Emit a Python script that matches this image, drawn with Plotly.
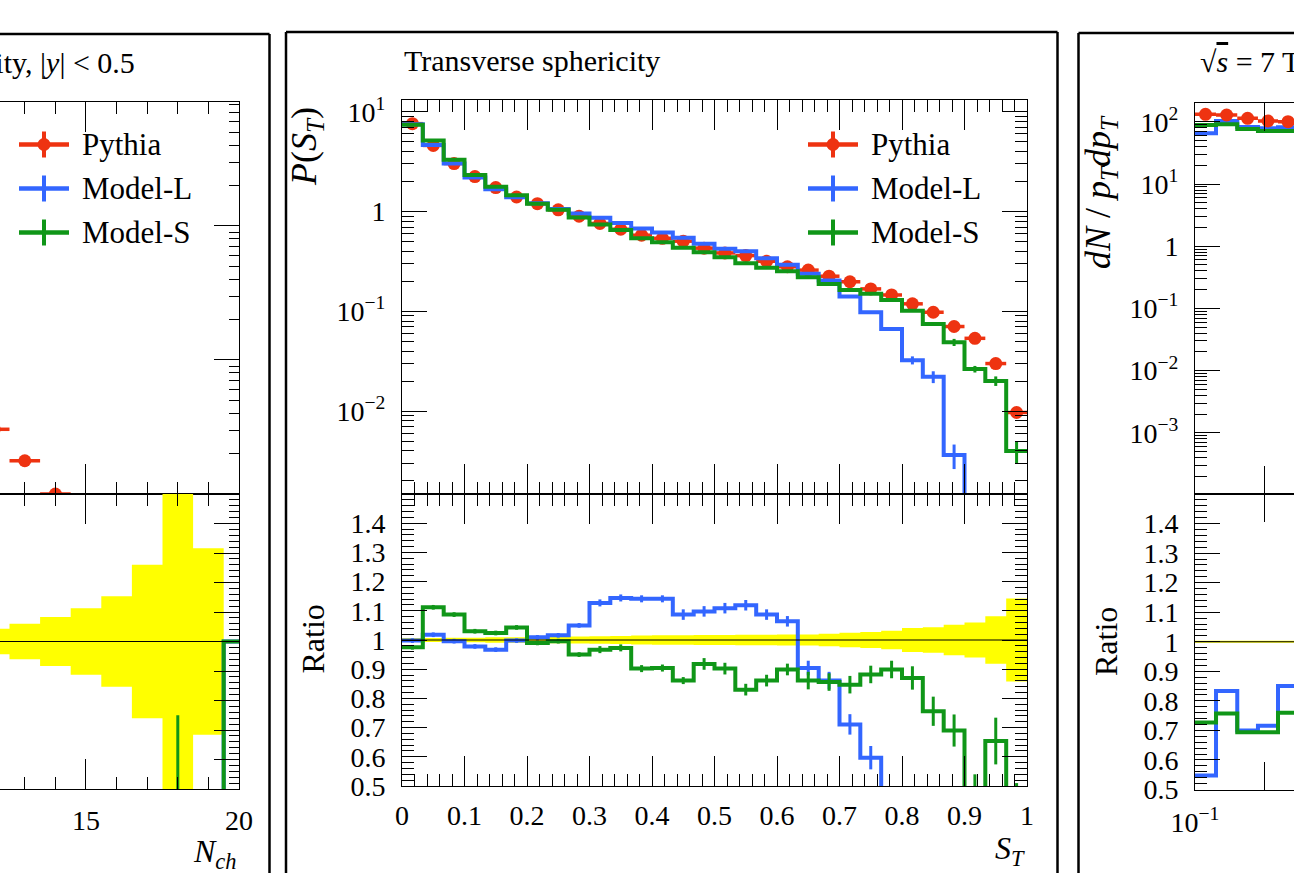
import plotly.graph_objects as go

W, H = 1294, 873
FONT = "Liberation Serif"
RED, BLUE, GREEN, YELLOW = "#ee3311", "#3366ff", "#109618", "#ffff00"

# ---------------- Centre panel: transverse sphericity (30 bins on [0,1]) -------------
st_edges = [0.0, 0.0333, 0.0667, 0.1, 0.1333, 0.1667, 0.2, 0.2333, 0.2667, 0.3,
            0.3333, 0.3667, 0.4, 0.4333, 0.4667, 0.5, 0.5333, 0.5667, 0.6, 0.6333,
            0.6667, 0.7, 0.7333, 0.7667, 0.8, 0.8333, 0.8667, 0.9, 0.9333, 0.9667, 1.0]
pythia_st = [7.6, 4.6, 3.03, 2.24, 1.74, 1.40, 1.20, 1.04, 0.90, 0.76, 0.665, 0.58, 0.54,
             0.505, 0.43, 0.385, 0.362, 0.318, 0.28, 0.259, 0.225, 0.198, 0.168, 0.146,
             0.119, 0.098, 0.0705, 0.0537, 0.030, 0.0097]
modelL_st = [7.49, 4.65, 3.03, 2.20, 1.67, 1.39, 1.21, 1.06, 0.955, 0.865, 0.77, 0.675,
             0.616, 0.547, 0.475, 0.424, 0.40, 0.341, 0.294, 0.238, 0.204, 0.141, 0.098,
             0.0665, 0.0324, 0.0221, 0.00363, 0.0, 0.0, 0.0]
modelL_st_err = [0.0] * 23 + [0.002, 0.003, 0.003, 0.001, 0.0, 0.0, 0.0]
modelS_st = [7.4, 5.15, 3.30, 2.32, 1.77, 1.46, 1.20, 1.04, 0.87, 0.74, 0.655, 0.54,
             0.493, 0.434, 0.392, 0.349, 0.304, 0.273, 0.252, 0.22, 0.188, 0.164, 0.15,
             0.13, 0.1016, 0.0747, 0.049, 0.0264, 0.0201, 0.0040]
modelS_st_err = [0.0] * 25 + [0.003, 0.004, 0.002, 0.0022, 0.001]
ratioL_st = [0.998, 1.018, 0.996, 0.978, 0.967, 0.998, 1.009, 1.016, 1.05, 1.127, 1.144,
             1.141, 1.141, 1.087, 1.098, 1.109, 1.119, 1.087, 1.064, 0.904, 0.861, 0.711,
             0.597, 0.45, 0.27, 0.22, 0.05, 0.0, 0.0, 0.0]
ratioL_st_err = [0.008] * 9 + [0.012] * 4 + [0.018] * 6 + [0.025, 0.03, 0.035, 0.04] + [0.05] * 7
ratioS_st = [0.975, 1.112, 1.087, 1.03, 1.024, 1.043, 0.99, 0.996, 0.95, 0.967, 0.973,
             0.902, 0.904, 0.861, 0.918, 0.902, 0.83, 0.861, 0.899, 0.861, 0.856, 0.847,
             0.882, 0.899, 0.87, 0.756, 0.69, 0.49, 0.654, 0.41]
ratioS_st_err = [0.008] * 9 + [0.012] * 5 + [0.02] * 5 + [0.03] * 5 + [0.04, 0.05, 0.055, 0.05, 0.08, 0.1]
band_st = [0.007, 0.007, 0.008, 0.008, 0.009, 0.009, 0.010, 0.011, 0.012, 0.013, 0.014,
           0.015, 0.016, 0.016, 0.017, 0.017, 0.018, 0.018, 0.019, 0.019, 0.021, 0.025,
           0.027, 0.032, 0.041, 0.044, 0.052, 0.060, 0.081, 0.142]

# ---------------- Left panel: charged multiplicity (visible bins only) -------------
nch_edges = [11.5, 12.5, 13.5, 14.5, 15.5, 16.5, 17.5, 18.5, 19.5, 20.5]
pythia_nch = [3.04e-3, 1.77e-3, 1.0e-3, 5.5e-4, 3.0e-4, 1.6e-4, 8e-5, 4e-5, 0.0]
band_nch = [0.043, 0.06, 0.083, 0.113, 0.153, 0.26, 0.6, 0.316, 0.0]
ratioL_nch = [0.0, 0.0, 0.0, 0.0, 0.0, 0.0, 0.0, 0.0, 1.0]
ratioS_nch = [0.0, 0.0, 0.0, 0.0, 0.0, 0.0, 0.0, 0.0, 1.0]
ratioS_nch_err = [0.0, 0.0, 0.0, 0.0, 0.0, 0.0, 0.75, 0.0, 0.0]

# ---------------- Right panel: pT spectrum (visible bins only) -------------
pt_edges = [0.100, 0.1232, 0.1521, 0.1868, 0.2279, 0.278]
pythia_pt = [132.0, 128.5, 113.8, 103.0, 100.4]
modelL_pt = [65.3, 103.0, 82.5, 78.6, 81.5]
modelS_pt = [88.9, 91.2, 76.6, 71.1, 71.1]
ratioL_pt = [0.547, 0.833, 0.70, 0.716, 0.85]
ratioS_pt = [0.727, 0.757, 0.694, 0.694, 0.76]
band_pt = [0.003, 0.003, 0.003, 0.003, 0.003]

LOGFLOOR = 1e-9


def px(x):
    return x / W


def py(y):
    return 1 - y / H


def centres(edges, log=False):
    if log:
        return [(a * b) ** 0.5 for a, b in zip(edges[:-1], edges[1:])]
    return [(a + b) / 2 for a, b in zip(edges[:-1], edges[1:])]


def steps(vals, floor=None):
    v = [(floor if (floor is not None and x <= 0) else x) for x in vals]
    return v + [v[-1]]


fig = go.Figure()


def add_step(edges, vals, color, xa, ya, floor=None, width=4):
    fig.add_trace(go.Scatter(x=edges, y=steps(vals, floor), mode="lines", line_shape="hv",
                             line=dict(color=color, width=width), xaxis=xa, yaxis=ya,
                             showlegend=False, hoverinfo="skip"))


def add_err(edges, vals, errs, color, xa, ya, log=False):
    fig.add_trace(go.Scatter(x=centres(edges, log), y=vals, mode="markers",
                             marker=dict(size=1, color=color),
                             error_y=dict(type="data", array=errs, color=color,
                                          thickness=3, width=0),
                             xaxis=xa, yaxis=ya, showlegend=False, hoverinfo="skip"))


def add_points(edges, vals, xa, ya, log=False):
    c = centres(edges, log)
    plus = [b - m for b, m in zip(edges[1:], c)]
    minus = [m - a for a, m in zip(edges[:-1], c)]
    yv = [v if v > 0 else None for v in vals]
    fig.add_trace(go.Scatter(x=c, y=yv, mode="markers",
                             marker=dict(size=13, color=RED, symbol="circle"),
                             error_x=dict(type="data", array=plus, arrayminus=minus,
                                          color=RED, thickness=3.5, width=0),
                             xaxis=xa, yaxis=ya, showlegend=False, hoverinfo="skip"))


def add_band(edges, hw, xa, ya):
    lo = [1 - h for h in hw]
    hi = [1 + h for h in hw]
    fig.add_trace(go.Scatter(x=edges, y=lo + [lo[-1]], mode="lines", line_shape="hv",
                             line=dict(width=0, color=YELLOW), xaxis=xa, yaxis=ya,
                             showlegend=False, hoverinfo="skip"))
    fig.add_trace(go.Scatter(x=edges, y=hi + [hi[-1]], mode="lines", line_shape="hv",
                             line=dict(width=0, color=YELLOW), fill="tonexty",
                             fillcolor=YELLOW, xaxis=xa, yaxis=ya,
                             showlegend=False, hoverinfo="skip"))


# centre panel traces (x/y upper, x2/y2 ratio)
add_points(st_edges, pythia_st, "x", "y")
add_step(st_edges, modelL_st, BLUE, "x", "y", floor=LOGFLOOR)
add_err(st_edges, modelL_st, modelL_st_err, BLUE, "x", "y")
add_step(st_edges, modelS_st, GREEN, "x", "y", floor=LOGFLOOR)
add_err(st_edges, modelS_st, modelS_st_err, GREEN, "x", "y")
add_band(st_edges, band_st, "x2", "y2")
add_step(st_edges, ratioL_st, BLUE, "x2", "y2")
add_err(st_edges, ratioL_st, ratioL_st_err, BLUE, "x2", "y2")
add_step(st_edges, ratioS_st, GREEN, "x2", "y2")
add_err(st_edges, ratioS_st, ratioS_st_err, GREEN, "x2", "y2")

# left panel traces (x3/y3 upper, x4/y4 ratio)
add_points(nch_edges, pythia_nch, "x3", "y3")
add_band(nch_edges, band_nch, "x4", "y4")
add_step(nch_edges, ratioL_nch, BLUE, "x4", "y4")
add_step(nch_edges, ratioS_nch, GREEN, "x4", "y4")
add_err(nch_edges, ratioS_nch, ratioS_nch_err, GREEN, "x4", "y4")

# right panel traces (x5/y5 upper, x6/y6 ratio)
add_step(pt_edges, modelL_pt, BLUE, "x5", "y5")
add_step(pt_edges, modelS_pt, GREEN, "x5", "y5")
add_points(pt_edges, pythia_pt, "x5", "y5", log=True)
add_band(pt_edges, band_pt, "x6", "y6")
add_step(pt_edges, ratioL_pt, BLUE, "x6", "y6")
add_step(pt_edges, ratioS_pt, GREEN, "x6", "y6")

# ---------------- axes ----------------
TF = dict(family=FONT, size=28, color="black")
log_minor = [k * 10.0 ** e for e in range(-5, 3) for k in range(2, 10)]
log_major = [1e-3, 1e-2, 1e-1, 1, 10, 100]
log_text = ["10<sup>\u22123</sup>", "10<sup>\u22122</sup>", "10<sup>\u22121</sup>", "1",
            "10<sup>1</sup>", "10<sup>2</sup>"]
ratio_major = [0.5, 0.6, 0.7, 0.8, 0.9, 1.0, 1.1, 1.2, 1.3, 1.4]
ratio_text = ["0.5", "0.6", "0.7", "0.8", "0.9", "1", "1.1", "1.2", "1.3", "1.4"]
st_major = [0, 0.1, 0.2, 0.3, 0.4, 0.5, 0.6, 0.7, 0.8, 0.9, 1.0]
st_text = ["0", "0.1", "0.2", "0.3", "0.4", "0.5", "0.6", "0.7", "0.8", "0.9", "1"]


def base(**kw):
    d = dict(showline=True, linecolor="black", linewidth=1, ticks="inside",
             tickcolor="black", tickwidth=1, showgrid=False, zeroline=False,
             tickfont=TF, ticklabelstandoff=10, automargin=False)
    d.update(kw)
    return d


def minor_lin(dt, t0, ln=12):
    return dict(ticks="inside", dtick=dt, tick0=t0, ticklen=ln, tickcolor="black",
                tickwidth=1, showgrid=False)


def minor_log(ln=12):
    return dict(ticks="inside", tickmode="array", tickvals=log_minor, ticklen=ln,
                tickcolor="black", tickwidth=1, showgrid=False)


CX = [px(402), px(1027)]
LX = [0, px(239)]
RX = [px(1195), 1]

fig.update_layout(
    template="none",
    width=W, height=H, margin=dict(l=0, r=0, t=0, b=0, pad=0, autoexpand=False),
    paper_bgcolor="white", plot_bgcolor="rgba(0,0,0,0)", showlegend=False,
    font=dict(family=FONT, color="black"),
    # centre
    xaxis=base(domain=CX, anchor="y", range=[0, 1], tickmode="array", tickvals=st_major,
               ticklen=30, mirror="ticks", showticklabels=False, minor=minor_lin(0.02, 0)),
    yaxis=base(domain=[py(494), py(100)], anchor="x", type="log", range=[-2.83, 1.118],
               tickmode="array", tickvals=log_major, ticktext=log_text, ticklen=25,
               mirror="ticks", minor=minor_log()),
    xaxis2=base(domain=CX, anchor="y2", range=[0, 1], tickmode="array", tickvals=st_major,
                ticktext=st_text, ticklen=30, mirror="ticks", minor=minor_lin(0.02, 0),
                ticklabelstandoff=4),
    yaxis2=base(domain=[py(786), py(494)], anchor="x2", range=[0.5, 1.5], tickmode="array",
                tickvals=ratio_major, ticktext=ratio_text, ticklen=25, mirror="ticks",
                minor=minor_lin(0.02, 0.5)),
    # left
    xaxis3=base(domain=LX, anchor="y3", range=[12.19, 20], tickmode="array",
                tickvals=[15, 20], ticklen=30, mirror="ticks", showticklabels=False,
                minor=minor_lin(1, 0)),
    yaxis3=base(domain=[py(494), py(102)], anchor="x3", side="right", type="log",
                range=[-3, -0.075], tickmode="array", tickvals=log_major, ticklen=25,
                showticklabels=False, minor=minor_log(10)),
    xaxis4=base(domain=LX, anchor="y4", range=[12.19, 20], tickmode="array",
                tickvals=[15, 20], ticktext=["15", "20"], ticklen=30,
                mirror="ticks", minor=minor_lin(1, 0), ticklabelstandoff=6),
    yaxis4=base(domain=[py(789), py(494)], anchor="x4", side="right", range=[0.5, 1.5],
                tickmode="array", tickvals=ratio_major, ticklen=25, showticklabels=False,
                minor=minor_lin(0.02, 0.5, 10)),
    # right
    xaxis5=base(domain=RX, anchor="y5", type="log", range=[-1, -0.5733], tickmode="array",
                tickvals=[0.1, 0.2], ticklen=28, mirror="ticks", showticklabels=False),
    yaxis5=base(domain=[py(494), py(102.7)], anchor="x5", type="log", range=[-3.984, 2.307],
                tickmode="array", tickvals=log_major, ticktext=log_text, ticklen=25,
                minor=minor_log()),
    xaxis6=base(domain=RX, anchor="y6", type="log", range=[-1, -0.5733], tickmode="array",
                tickvals=[0.1], ticktext=["10<sup>\u22121</sup>"], ticklen=28,
                mirror="ticks", ticklabelstandoff=8,
                minor=dict(ticks="inside", tickmode="array", tickvals=[0.2],
                           ticklen=28, tickcolor="black", tickwidth=1)),
    yaxis6=base(domain=[py(789.5), py(494)], anchor="x6", range=[0.5, 1.5], tickmode="array",
                tickvals=ratio_major, ticktext=ratio_text, ticklen=25,
                minor=minor_lin(0.02, 0.5)),
)

shapes = []
# ratio = 1 reference lines
for xa, ya in (("x2", "y2"), ("x4", "y4"), ("x6", "y6")):
    shapes.append(dict(type="line", xref=f"{xa} domain", yref=ya, x0=0, x1=1, y0=1, y1=1,
                       line=dict(color="black", width=1), layer="above"))

# panel frames
FR = dict(color="black", width=2.5)
for (x0, y0, x1, y1) in [
    (269.5, 34, 269.5, 900), (-20, 34, 269.5, 34),                       # left panel
    (286, 32, 286, 900), (1057.5, 32, 1057.5, 900), (286, 32, 1057.5, 32),  # centre
    (1078.5, 33, 1078.5, 900), (1078.5, 33, 1320, 33),                    # right
]:
    shapes.append(dict(type="line", xref="paper", yref="paper", x0=px(x0), x1=px(x1),
                       y0=py(y0), y1=py(y1), line=FR))

annotations = []


def legend(x_line0):
    items = [("Pythia", RED, True, 144.5), ("Model-L", BLUE, False, 188.5),
             ("Model-S", GREEN, False, 232.5)]
    for name, col, dot, yy in items:
        shapes.append(dict(type="line", xref="paper", yref="paper", x0=px(x_line0),
                           x1=px(x_line0 + 50), y0=py(yy), y1=py(yy),
                           line=dict(color=col, width=4.5)))
        xc = x_line0 + 25
        shapes.append(dict(type="line", xref="paper", yref="paper", x0=px(xc), x1=px(xc),
                           y0=py(yy - 13), y1=py(yy + 13), line=dict(color=col, width=4)))
        if dot:
            shapes.append(dict(type="circle", xref="paper", yref="paper",
                               xsizemode="pixel", ysizemode="pixel",
                               xanchor=px(xc), yanchor=py(yy), x0=-6.5, x1=6.5,
                               y0=-6.5, y1=6.5, fillcolor=col, line=dict(width=0)))
        annotations.append(dict(text=name, xref="paper", yref="paper", x=px(x_line0 + 61),
                                y=py(yy), xanchor="left", yanchor="middle", showarrow=False,
                                font=dict(family=FONT, size=31, color="black")))


legend(808)
legend(19)


def text(t, x, y, xa="center", ya="middle", size=30, angle=0):
    annotations.append(dict(text=t, xref="paper", yref="paper", x=px(x), y=py(y),
                            xanchor=xa, yanchor=ya, showarrow=False, textangle=angle,
                            font=dict(family=FONT, size=size, color="black")))


text("Transverse sphericity", 402, 61, xa="left")
text("Charged particle multiplicity, |<i>y</i>| &lt; 0.5", 137, 63, xa="right")
text("\u221a<span style='text-decoration:overline'><i>s</i></span> = 7 TeV", 1198, 62,
     xa="left")
text("<i>P</i>(<i>S<sub>T</sub></i>)", 306, 147, size=36, angle=-90)
text("Ratio", 312.5, 639, size=32, angle=-90)
text("Ratio", 1106, 642, size=32, angle=-90)
text("<i>dN</i> / <i>p<sub>T</sub>dp<sub>T</sub></i>", 1100, 192, size=36, angle=-90)
text("<i>S<sub>T</sub></i>", 1027, 850, xa="right", size=32)
text("<i>N<sub>ch</sub></i>", 238, 853, xa="right", size=32)

fig.update_layout(shapes=shapes, annotations=annotations)
fig.write_html("out.html")
